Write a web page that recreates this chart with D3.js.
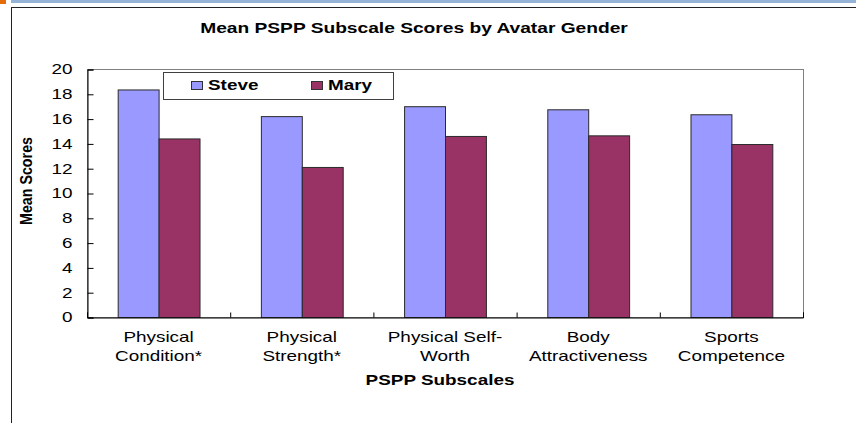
<!DOCTYPE html>
<html>
<head>
<meta charset="utf-8">
<script src="https://cdn.jsdelivr.net/npm/d3@7"></script>
<style>
  body { margin: 0; background: #fff; }
  svg { display: block; font-family: "Liberation Sans", Arial, sans-serif; }
</style>
</head>
<body>
<div id="chart"></div>
<script>
// chart values
var categories = [
    ["Physical", "Condition*"],
    ["Physical", "Strength*"],
    ["Physical Self-", "Worth"],
    ["Body", "Attractiveness"],
    ["Sports", "Competence"]
];
var seriesNames = ["Steve", "Mary"];
var steve = [18.35, 16.2, 17.0, 16.75, 16.35];
var mary = [14.4, 12.1, 14.6, 14.65, 13.95];
var yTicks = [0, 2, 4, 6, 8, 10, 12, 14, 16, 18, 20];

var colors = { Steve: "#9999ff", Mary: "#993366" };
var sx = 1.35; // the picture's text is stretched sideways

var W = 856, H = 423;
var plot = { left: 87, right: 803, top: 69, bottom: 317 };

var svg = d3.select("#chart").append("svg")
    .attr("width", W)
    .attr("height", H);

// slide decoration round the chart
svg.append("rect").attr("x", 11).attr("y", 0).attr("width", W - 11).attr("height", 3).attr("fill", "#95b3d7");
svg.append("rect").attr("x", 0).attr("y", 0).attr("width", 6).attr("height", 4).attr("fill", "#e46c0a");
svg.append("line").attr("x1", 11).attr("x2", W).attr("y1", 7.5).attr("y2", 7.5).attr("stroke", "#222");
svg.append("line").attr("x1", 11.5).attr("x2", 11.5).attr("y1", 7).attr("y2", H).attr("stroke", "#222");

var x = d3.scaleBand()
    .domain(d3.range(categories.length))
    .range([plot.left, plot.right])
    .paddingInner(0).paddingOuter(0);

var xSub = d3.scaleBand()
    .domain(seriesNames)
    .range([0, x.bandwidth()])
    .paddingInner(0)
    .paddingOuter(0.75);

var xEdge = d3.scaleLinear()
    .domain([0, categories.length])
    .range([plot.left, plot.right]);

var y = d3.scaleLinear()
    .domain([0, 20])
    .range([plot.bottom, plot.top]);

// plot area frame
svg.append("rect")
    .attr("x", plot.left + 0.5).attr("y", plot.top + 0.5)
    .attr("width", plot.right - plot.left).attr("height", plot.bottom - plot.top)
    .attr("fill", "#fff").attr("stroke", "#808080");

// bars
var rows = categories.map(function(c, i) {
    return { i: i, Steve: steve[i], Mary: mary[i] };
});

var groups = svg.append("g").selectAll("g")
    .data(rows)
    .enter().append("g")
    .attr("transform", function(d) { return "translate(" + x(d.i) + ",0)"; });

groups.selectAll("rect")
    .data(function(d) { return seriesNames.map(function(s) { return { s: s, v: d[s] }; }); })
    .enter().append("rect")
    .attr("x", function(d) { return xSub(d.s) + 0.5; })
    .attr("y", function(d) { return y(d.v) + 0.5; })
    .attr("width", xSub.bandwidth())
    .attr("height", function(d) { return y(0) - y(d.v); })
    .attr("fill", function(d) { return colors[d.s]; })
    .attr("stroke", "#2a2a2a")
    .attr("stroke-width", 1);

// y axis
var yAxis = svg.append("g")
    .attr("transform", "translate(" + (plot.left + 0.5) + ",0.5)")
    .call(d3.axisLeft(y).tickValues(yTicks).tickSize(-6).tickPadding(0));
yAxis.select(".domain").attr("stroke", "#000");
yAxis.selectAll("line").attr("stroke", "#000");
yAxis.selectAll("text")
    .attr("x", 0)
    .attr("transform", "translate(-15,0) scale(" + sx + ",1)")
    .attr("font-size", 14)
    .attr("font-family", "Liberation Sans, Arial, sans-serif")
    .attr("fill", "#000");

// x axis with ticks on category edges
var xAxis = svg.append("g")
    .attr("transform", "translate(0," + (plot.bottom + 0.5) + ")")
    .call(d3.axisBottom(xEdge).tickValues(d3.range(categories.length + 1)).tickSize(-5).tickFormat(""));
xAxis.select(".domain").attr("stroke", "#000");
xAxis.selectAll("line").attr("stroke", "#000");

// category labels
var labels = svg.append("g").selectAll("text")
    .data(categories)
    .enter().append("text")
    .attr("text-anchor", "middle")
    .attr("font-size", 14)
    .attr("fill", "#000")
    .attr("transform", function(d, i) {
        return "translate(" + (x(i) + x.bandwidth() / 2) + ",342) scale(" + sx + ",1)";
    });
labels.selectAll("tspan")
    .data(function(d) { return d; })
    .enter().append("tspan")
    .attr("x", 0)
    .attr("dy", function(d, j) { return j ? 19 : 0; })
    .text(function(d) { return d; });

// titles
svg.append("text")
    .attr("text-anchor", "middle")
    .attr("font-size", 14)
    .attr("font-weight", "bold")
    .attr("transform", "translate(414,33) scale(1.37,1)")
    .text("Mean PSPP Subscale Scores by Avatar Gender");

svg.append("text")
    .attr("text-anchor", "middle")
    .attr("font-size", 14)
    .attr("font-weight", "bold")
    .attr("transform", "translate(440,385) scale(" + sx + ",1)")
    .text("PSPP Subscales");

svg.append("text")
    .attr("text-anchor", "middle")
    .attr("font-size", 13)
    .attr("font-weight", "bold")
    .attr("transform", "translate(32,181) scale(1.2,1) rotate(-90)")
    .attr("textLength", 88)
    .attr("lengthAdjust", "spacingAndGlyphs")
    .text("Mean Scores");

// legend
var legend = svg.append("g").attr("transform", "translate(163,72)");
legend.append("rect")
    .attr("x", 0.5).attr("y", 0.5)
    .attr("width", 230).attr("height", 27)
    .attr("fill", "#fff").attr("stroke", "#404040");

var items = legend.selectAll("g.item")
    .data(seriesNames)
    .enter().append("g")
    .attr("class", "item")
    .attr("transform", function(d, i) { return "translate(" + (28 + i * 120) + ",0)"; });
items.append("rect")
    .attr("x", 0.5).attr("y", 9.5)
    .attr("width", 11).attr("height", 8)
    .attr("fill", function(d) { return colors[d]; })
    .attr("stroke", "#333");
items.append("text")
    .attr("transform", "translate(17,18) scale(" + sx + ",1)")
    .attr("font-size", 14)
    .attr("font-weight", "bold")
    .text(function(d) { return d; });
</script>
</body>
</html>
